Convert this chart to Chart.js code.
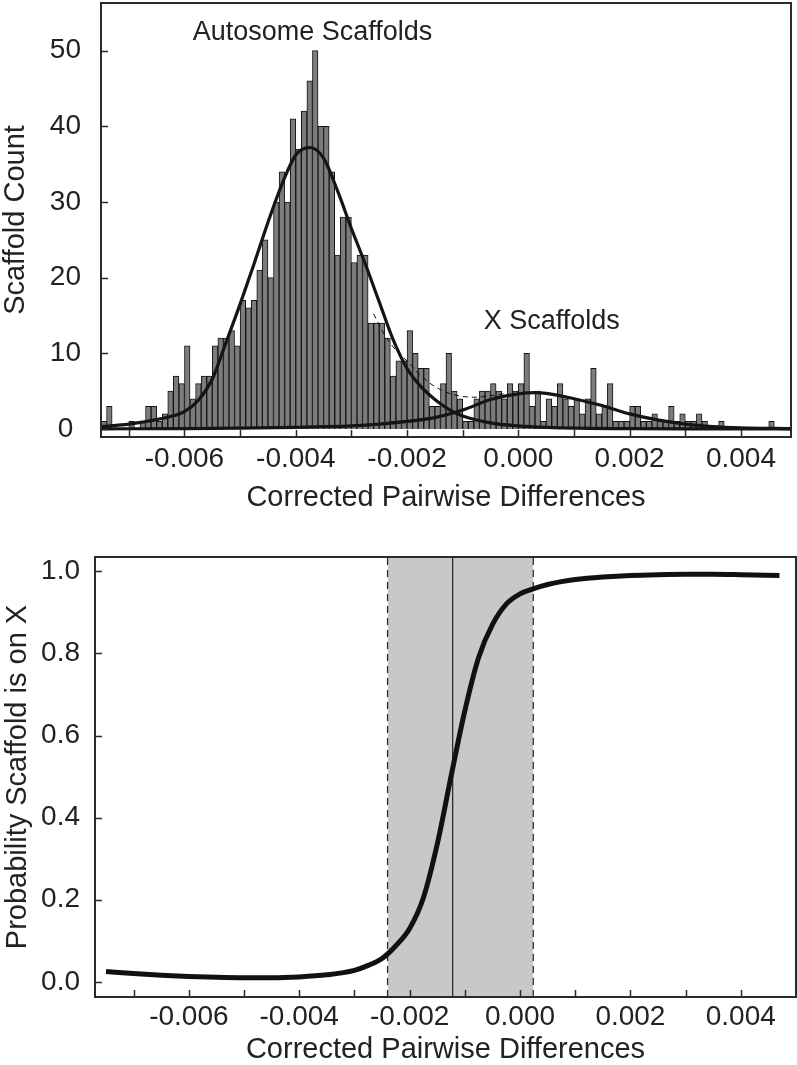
<!DOCTYPE html>
<html>
<head>
<meta charset="utf-8">
<title>Scaffold pairwise differences</title>
<script src="https://cdn.jsdelivr.net/npm/chart.js@4.4.1/dist/chart.umd.min.js"></script>
<style>
  html, body { margin: 0; padding: 0; background: #fff; }
  #wrap { position: relative; width: 797px; height: 1065px; }
  canvas { position: absolute; left: 0; }
  #histChart { top: 0; }
  #probChart { top: 530px; }
</style>
</head>
<body>
<div id="wrap">
  <canvas id="histChart" width="797" height="530"></canvas>
  <canvas id="probChart" width="797" height="535"></canvas>
</div>
<script>
// --- histogram: bins 0.0001 wide, first bin starts at -0.0075
const binStart = -0.0075;
const binWidth = 0.0001;
const scaffoldCounts = [
  1, 3, 0, 0, 0, 1, 0, 1, 3, 3,
  1, 2, 5, 7, 6, 11, 4, 6, 7, 7,
  11, 12, 12, 13, 11, 17, 16, 17, 21, 25,
  20, 30, 34, 30, 41, 37, 42, 46, 50, 40,
  40, 34, 23, 28, 28, 22, 23, 23, 14, 14,
  14, 12, 7, 9, 9, 13, 10, 8, 8, 3,
  3, 6, 10, 5, 4, 1, 1, 4, 5, 5,
  6, 5, 4, 6, 5, 6, 10, 3, 5, 1,
  4, 3, 6, 4, 3, 4, 2, 4, 8, 2,
  3, 6, 1, 1, 1, 3, 3, 1, 1, 2,
  1, 1, 3, 1, 2, 1, 1, 2, 1, 0,
  0, 1, 0, 0, 0, 0, 0, 0, 0, 0,
  1
];

// fitted curves
const autosomeFitX = [-0.0075, -0.007, -0.0065, -0.006, -0.00575, -0.0055, -0.00525, -0.005, -0.00475, -0.0045,
  -0.00425, -0.004, -0.00375, -0.0035, -0.00325, -0.003, -0.00275, -0.0025, -0.00225, -0.002,
  -0.00175, -0.0015, -0.00125, -0.001, -0.0005, 0, 0.0005, 0.001, 0.002, 0.003, 0.0049];
const autosomeFitY = [0.3, 0.65, 1.25, 2.3, 3.8, 6.6, 11.5, 16.5, 21.8, 27.3,
  32.3, 36.2, 37.2, 35.8, 31.5, 26.5, 21.8, 16.8, 11.8, 8.0,
  5.6, 3.9, 2.6, 1.7, 0.8, 0.4, 0.2, 0.1, 0.05, 0.02, 0];

const xFitX = [-0.0075, -0.006, -0.005, -0.004, -0.0035, -0.003, -0.0025, -0.002, -0.0015, -0.001,
  -0.0005, 0, 0.0003, 0.0005, 0.001, 0.0015, 0.002, 0.0025, 0.003, 0.0035, 0.004, 0.0049];
const xFitY = [0.02, 0.06, 0.12, 0.22, 0.3, 0.42, 0.65, 1.0, 1.5, 2.5,
  3.9, 4.65, 4.8, 4.7, 4.0, 3.1, 2.0, 1.2, 0.65, 0.32, 0.16, 0.06];

const sumFitX = [-0.0026, -0.0024, -0.0022, -0.002, -0.0018, -0.0016, -0.0014, -0.0012, -0.001, -0.0008, -0.0006, -0.0004, -0.0002];
const sumFitY = [15.2, 12.4, 10.4, 9.0, 7.4, 6.1, 5.2, 4.6, 4.3, 4.2, 4.3, 4.5, 4.7];

const xLabelTicks = [-0.006, -0.004, -0.002, 0, 0.002, 0.004];
const xMinorTicks = [-0.007, -0.006, -0.005, -0.004, -0.003, -0.002, -0.001, 0, 0.001, 0.002, 0.003, 0.004];
const countTicks = [0, 10, 20, 30, 40, 50];

// --- probability panel
const probX = [-0.0075, -0.007, -0.0065, -0.006, -0.0055, -0.005, -0.0045, -0.004, -0.0035, -0.003,
  -0.00275, -0.0025, -0.00225, -0.002, -0.00175, -0.0015, -0.00125, -0.001, -0.00075, -0.0005,
  -0.00025, 0, 0.00025, 0.0005, 0.00075, 0.001, 0.0015, 0.002, 0.0025, 0.003, 0.0035, 0.004, 0.0047];
const probY = [0.025, 0.02, 0.016, 0.013, 0.011, 0.01, 0.01, 0.012, 0.017, 0.028,
  0.04, 0.057, 0.088, 0.13, 0.205, 0.335, 0.5, 0.66, 0.79, 0.87,
  0.92, 0.945, 0.958, 0.968, 0.975, 0.98, 0.986, 0.99, 0.992, 0.993, 0.993, 0.992, 0.99];
const probTicks = [0, 0.2, 0.4, 0.6, 0.8, 1.0];
const cutLow = -0.0024;
const cutMid = -0.00122;
const cutHigh = 0.00024;

const ink = '#222';
const fontFamily = '"Liberation Sans", Arial, Helvetica, sans-serif';
const tickFont = { family: fontFamily, size: 28 };
const titleFont = { family: fontFamily, size: 29, lineHeight: 1 };

const toPoints = (xs, ys) => xs.map((x, i) => ({ x: x, y: ys[i] }));

// keep the plot box where it is: no extra room reserved for edge labels
function fixSize(prop, size) {
  return s => {
    s[prop] = size;
    s.paddingTop = 0;
    s.paddingBottom = 0;
    s.paddingLeft = 0;
    s.paddingRight = 0;
  };
}

// frame box + short inward tick marks
const frameAndTicks = {
  id: 'frameAndTicks',
  afterDraw(chart, args, opts) {
    const { ctx, chartArea: a, scales: { x, y } } = chart;
    ctx.save();
    ctx.strokeStyle = '#2a2a2a';
    ctx.lineWidth = 1.5;
    opts.xTicks.forEach(v => {
      const px = Math.round(x.getPixelForValue(v)) + 0.5;
      ctx.beginPath();
      ctx.moveTo(px, a.bottom);
      ctx.lineTo(px, a.bottom - 7);
      ctx.stroke();
    });
    opts.yTicks.forEach(v => {
      const py = Math.round(y.getPixelForValue(v)) + 0.5;
      ctx.beginPath();
      ctx.moveTo(a.left, py);
      ctx.lineTo(a.left + 7, py);
      ctx.stroke();
    });
    ctx.lineWidth = 2;
    ctx.strokeRect(a.left, a.top, a.right - a.left, a.bottom - a.top);
    ctx.restore();
  }
};

// text labels placed in data coordinates
const panelLabels = {
  id: 'panelLabels',
  afterDatasetsDraw(chart, args, opts) {
    if (!opts.items) return;
    const { ctx, scales: { x, y } } = chart;
    ctx.save();
    ctx.font = '27px ' + fontFamily;
    ctx.fillStyle = ink;
    ctx.textAlign = 'center';
    ctx.textBaseline = 'middle';
    opts.items.forEach(it => {
      ctx.fillText(it.text, x.getPixelForValue(it.x), y.getPixelForValue(it.y));
    });
    ctx.restore();
  }
};

const histBars = scaffoldCounts.map((c, i) => ({ x: binStart + (i + 0.5) * binWidth, y: c }));

new Chart(document.getElementById('histChart'), {
  type: 'bar',
  data: {
    datasets: [
      {
        type: 'line',
        data: toPoints(sumFitX, sumFitY),
        borderColor: '#111',
        borderWidth: 1,
        borderDash: [5, 4],
        pointRadius: 0,
        cubicInterpolationMode: 'monotone',
        order: 1
      },
      {
        type: 'line',
        data: toPoints(autosomeFitX, autosomeFitY),
        borderColor: '#151515',
        borderWidth: 3.2,
        pointRadius: 0,
        cubicInterpolationMode: 'monotone',
        order: 1
      },
      {
        type: 'line',
        data: toPoints(xFitX, xFitY),
        borderColor: '#151515',
        borderWidth: 3.2,
        pointRadius: 0,
        cubicInterpolationMode: 'monotone',
        order: 1
      },
      {
        type: 'bar',
        data: histBars,
        backgroundColor: '#7c7c7c',
        borderColor: '#141414',
        borderWidth: 1,
        barPercentage: 1,
        categoryPercentage: 1,
        order: 2
      }
    ]
  },
  options: {
    responsive: false,
    animation: false,
    devicePixelRatio: 1,
    layout: { padding: { top: 3, right: 6, left: 0, bottom: 0 } },
    plugins: {
      legend: { display: false },
      tooltip: { enabled: false },
      frameAndTicks: { xTicks: xMinorTicks, yTicks: countTicks },
      panelLabels: {
        items: [
          { text: 'Autosome Scaffolds', x: -0.0037, y: 52.4 },
          { text: 'X Scaffolds', x: 0.0006, y: 14.2 }
        ]
      }
    },
    scales: {
      x: {
        type: 'linear',
        min: -0.0075,
        max: 0.0049,
        offset: false,
        grid: { display: false, drawTicks: false },
        border: { display: false },
        afterBuildTicks: s => { s.ticks = xLabelTicks.map(v => ({ value: v })); },
        ticks: { font: tickFont, color: ink, padding: 5, maxRotation: 0, autoSkip: false, callback: v => v.toFixed(3) },
        title: { display: true, text: 'Corrected Pairwise Differences', font: titleFont, color: ink, padding: { top: 0, bottom: 18 } },
        afterFit: fixSize('height', 93)
      },
      y: {
        type: 'linear',
        min: -1.06,
        max: 56.3,
        grid: { display: false, drawTicks: false },
        border: { display: false },
        afterBuildTicks: s => { s.ticks = countTicks.map(v => ({ value: v })); },
        ticks: { font: tickFont, color: ink, padding: 20, crossAlign: 'center', callback: v => String(v) },
        title: { display: true, text: 'Scaffold Count', font: titleFont, color: ink, padding: { top: 1.5, bottom: 0 } },
        afterFit: fixSize('width', 101)
      }
    }
  },
  plugins: [frameAndTicks, panelLabels]
});

const pMin = -0.037;
const pMax = 1.035;

new Chart(document.getElementById('probChart'), {
  type: 'line',
  data: {
    datasets: [
      {
        data: toPoints(probX, probY),
        borderColor: '#111',
        borderWidth: 5,
        pointRadius: 0,
        cubicInterpolationMode: 'monotone',
        order: 1
      },
      {
        data: [{ x: cutMid, y: pMin }, { x: cutMid, y: pMax }],
        borderColor: '#222',
        borderWidth: 1.2,
        pointRadius: 0,
        order: 2
      },
      {
        data: [{ x: cutLow, y: pMin }, { x: cutLow, y: pMax }],
        borderColor: '#222',
        borderWidth: 1.2,
        borderDash: [7, 5],
        pointRadius: 0,
        order: 2
      },
      {
        data: [{ x: cutHigh, y: pMin }, { x: cutHigh, y: pMax }],
        borderColor: '#222',
        borderWidth: 1.2,
        borderDash: [7, 5],
        pointRadius: 0,
        order: 2
      },
      {
        data: [{ x: cutLow, y: pMax }, { x: cutHigh, y: pMax }],
        borderWidth: 0,
        borderColor: 'rgba(0,0,0,0)',
        backgroundColor: '#c8c8c8',
        fill: 'start',
        pointRadius: 0,
        order: 3
      }
    ]
  },
  options: {
    responsive: false,
    animation: false,
    devicePixelRatio: 1,
    layout: { padding: { top: 27, right: 1, left: 0, bottom: 0 } },
    plugins: {
      legend: { display: false },
      tooltip: { enabled: false },
      frameAndTicks: { xTicks: xMinorTicks, yTicks: probTicks }
    },
    scales: {
      x: {
        type: 'linear',
        min: -0.0077,
        max: 0.005,
        grid: { display: false, drawTicks: false },
        border: { display: false },
        afterBuildTicks: s => { s.ticks = xLabelTicks.map(v => ({ value: v })); },
        ticks: { font: tickFont, color: ink, padding: 3, maxRotation: 0, autoSkip: false, callback: v => v.toFixed(3) },
        title: { display: true, text: 'Corrected Pairwise Differences', font: titleFont, color: ink, padding: { top: 0, bottom: 1 } },
        afterFit: fixSize('height', 68)
      },
      y: {
        type: 'linear',
        min: pMin,
        max: pMax,
        grid: { display: false, drawTicks: false },
        border: { display: false },
        afterBuildTicks: s => { s.ticks = probTicks.map(v => ({ value: v })); },
        ticks: { font: tickFont, color: ink, padding: 15, crossAlign: 'center', callback: v => v.toFixed(1) },
        title: { display: true, text: 'Probability Scaffold is on X', font: titleFont, color: ink, padding: { top: 3.5, bottom: 0 } },
        afterFit: fixSize('width', 95)
      }
    }
  },
  plugins: [frameAndTicks]
});
</script>
</body>
</html>
